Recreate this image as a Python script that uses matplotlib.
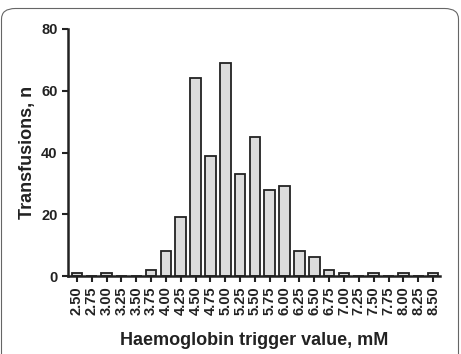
import matplotlib
matplotlib.use("Agg")
import matplotlib.pyplot as plt
from matplotlib.patches import FancyBboxPatch

categories = ["2.50", "2.75", "3.00", "3.25", "3.50", "3.75", "4.00", "4.25", "4.50",
              "4.75", "5.00", "5.25", "5.50", "5.75", "6.00", "6.25", "6.50", "6.75",
              "7.00", "7.25", "7.50", "7.75", "8.00", "8.25", "8.50"]
counts = [1, 0, 1, 0, 0, 2, 8, 19, 64, 39, 69, 33, 45, 28, 29, 8, 6, 2, 1, 0, 1, 0, 1, 0, 1]
y_ticks = [0, 20, 40, 60, 80]

plt.rcParams['font.family'] = ['Liberation Sans', 'DejaVu Sans']
plt.rcParams['font.weight'] = 'bold'

fig = plt.figure(figsize=(4.61, 3.54), dpi=100)
frame = FancyBboxPatch((1.5/461, -0.05), 457/461, 1 - 8.5/354 + 0.05,
                       boxstyle="round,pad=0,rounding_size=0.03",
                       transform=fig.transFigure, fill=False,
                       edgecolor="#666666", linewidth=0.8)
fig.patches.append(frame)

ax = fig.add_axes([68/461, 1 - 276/354, (440 - 68)/461, (276 - 29)/354])
x = list(range(len(categories)))
ax.bar(x, counts, width=0.72, color="#dcdcdc", edgecolor="#222222", linewidth=1.3, zorder=2)

ax.set_xlim(-0.6, len(categories) - 1 + 0.47)
ax.set_ylim(0, 80)
ax.set_yticks(y_ticks)
ax.set_xticks(x)
ax.set_xticklabels(categories, rotation=90, fontsize=10.5, fontweight='bold', color="#222222")
ax.tick_params(axis='y', labelsize=10.5, colors="#222222", width=1.5, length=4)
ax.tick_params(axis='x', width=1.5, length=4, colors="#222222")
for lab in ax.get_yticklabels():
    lab.set_fontweight('bold')

for side in ['top', 'right']:
    ax.spines[side].set_visible(False)
for side in ['left', 'bottom']:
    ax.spines[side].set_linewidth(1.8)
    ax.spines[side].set_color("#222222")
    ax.spines[side].set_zorder(3)

ax.set_ylabel("Transfusions, n", fontsize=13, fontweight='bold', color="#222222", labelpad=4)
ax.set_xlabel("Haemoglobin trigger value, mM", fontsize=13, fontweight='bold', color="#222222", labelpad=12)

fig.savefig("out.png", dpi=100)
